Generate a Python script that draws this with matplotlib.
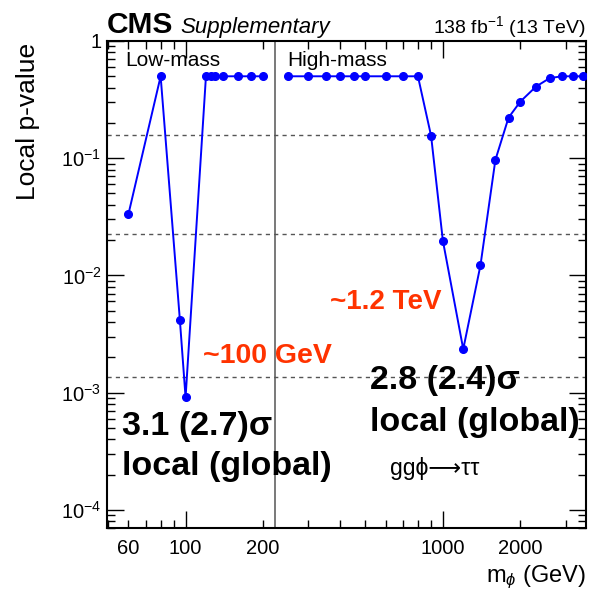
import matplotlib
matplotlib.use("Agg")
import matplotlib.pyplot as plt
from matplotlib.ticker import FixedLocator, FuncFormatter, NullFormatter
import numpy as np

plt.rcParams['font.family'] = ['Liberation Sans', 'DejaVu Sans']
plt.rcParams['mathtext.fontset'] = 'custom'
plt.rcParams['mathtext.rm'] = 'Liberation Sans'
plt.rcParams['mathtext.it'] = 'Liberation Sans:italic'
plt.rcParams['mathtext.bf'] = 'Liberation Sans:bold'

# Local p-values, gg-phi -> tautau search
low_mass = [60, 80, 95, 100, 120, 125, 130, 140, 160, 180, 200]
low_pval = [0.0335, 0.5, 0.0042, 0.00091, 0.5, 0.5, 0.5, 0.5, 0.5, 0.5, 0.5]

high_mass = [250, 300, 350, 400, 450, 500, 600, 700, 800, 900, 1000, 1200,
             1400, 1600, 1800, 2000, 2300, 2600, 2900, 3200, 3500]
high_pval = [0.5, 0.5, 0.5, 0.5, 0.5, 0.5, 0.5, 0.5, 0.5, 0.155, 0.0198, 0.00235,
             0.0122, 0.0967, 0.222, 0.304, 0.408, 0.482, 0.5, 0.5, 0.5]

sigma_pvals = [0.1587, 0.02275, 0.00135]   # 1, 2, 3 sigma
region_split = 223

xticks_labeled = [60, 100, 200, 1000, 2000]

fig = plt.figure(figsize=(5.9, 5.94), dpi=100)
ax = fig.add_axes([107/590, 1 - 528/594, (586 - 107)/590, (528 - 41)/594])

ax.set_xscale('log')
ax.set_yscale('log')
ax.set_xlim(49.5, 3600)
ax.set_ylim(7.0e-5, 1.0)

for p in sigma_pvals:
    ax.axhline(p, color='#555555', lw=1.0, ls=(0, (3, 3)), zorder=1)
ax.axvline(region_split, color='#555555', lw=1.1, zorder=1)

style = dict(color='#0000ff', lw=1.4, marker='o', ms=5.5, zorder=3)
ax.plot(low_mass, low_pval, **style)
ax.plot(high_mass, high_pval, **style)

# ticks
minor_x = [m * d for d in (10, 100, 1000) for m in range(2, 10)]
ax.xaxis.set_major_locator(FixedLocator([100, 1000]))
ax.xaxis.set_minor_locator(FixedLocator(minor_x))
fmt = FuncFormatter(lambda v, pos: f"{int(round(v))}" if int(round(v)) in xticks_labeled else "")
ax.xaxis.set_major_formatter(fmt)
ax.xaxis.set_minor_formatter(fmt)

ax.yaxis.set_major_locator(FixedLocator([1e-4, 1e-3, 1e-2, 1e-1, 1]))
minor_y = [m * 10.0**e for e in range(-5, 0) for m in range(2, 10)]
ax.yaxis.set_minor_locator(FixedLocator(minor_y))
ax.yaxis.set_minor_formatter(NullFormatter())

def ylab(v, pos):
    e = int(round(np.log10(v)))
    return "1" if e == 0 else r"$\mathregular{10^{%d}}$" % e
ax.yaxis.set_major_formatter(FuncFormatter(ylab))

ax.tick_params(which='both', direction='in', top=True, right=True, labelsize=14.5,
               width=1.0, colors='black')
ax.tick_params(which='major', length=12)
ax.tick_params(which='minor', length=6)
ax.tick_params(axis='x', which='both', pad=8)
ax.tick_params(axis='y', which='both', pad=4)
for s in ax.spines.values():
    s.set_linewidth(1.5)

# labels
fig.text(28/590, 1 - 43/594, "Local p-value", rotation=90, ha='center', va='top', fontsize=19)
fig.text(586/590, 1 - 577/594, r"m$_{\phi}$ (GeV)", ha='right', va='center', fontsize=17)

fig.text(107/590, 1 - 33/594, "CMS", ha='left', va='baseline', fontsize=21.5, fontweight='bold')
fig.text(180/590, 1 - 33/594, "Supplementary", ha='left', va='baseline', fontsize=16, style='italic')
fig.text(586/590, 1 - 33/594, r"138 fb$^{-1}$ (13 TeV)", ha='right', va='baseline', fontsize=14)

fig.text(125/590, 1 - 60/594, "Low-mass", ha='left', va='center', fontsize=15)
fig.text(287/590, 1 - 60/594, "High-mass", ha='left', va='center', fontsize=15)

red = '#ff3300'
fig.text(203/590, 1 - 356/594, "~100 GeV", ha='left', va='center', fontsize=20.5,
         fontweight='bold', color=red)
fig.text(330/590, 1 - 302/594, "~1.2 TeV", ha='left', va='center', fontsize=20,
         fontweight='bold', color=red)

fig.text(122/590, 1 - 427/594, "3.1 (2.7)σ", ha='left', va='center', fontsize=24.5, fontweight='bold')
fig.text(122/590, 1 - 466/594, "local (global)", ha='left', va='center', fontsize=24.5, fontweight='bold')
fig.text(370/590, 1 - 381/594, "2.8 (2.4)σ", ha='left', va='center', fontsize=24.5, fontweight='bold')
fig.text(370/590, 1 - 422/594, "local (global)", ha='left', va='center', fontsize=24.5, fontweight='bold')
fig.text(390/590, 1 - 468/594, "ggϕ⟶ττ", ha='left', va='center', fontsize=16.5)

fig.savefig("out.png", dpi=100)
